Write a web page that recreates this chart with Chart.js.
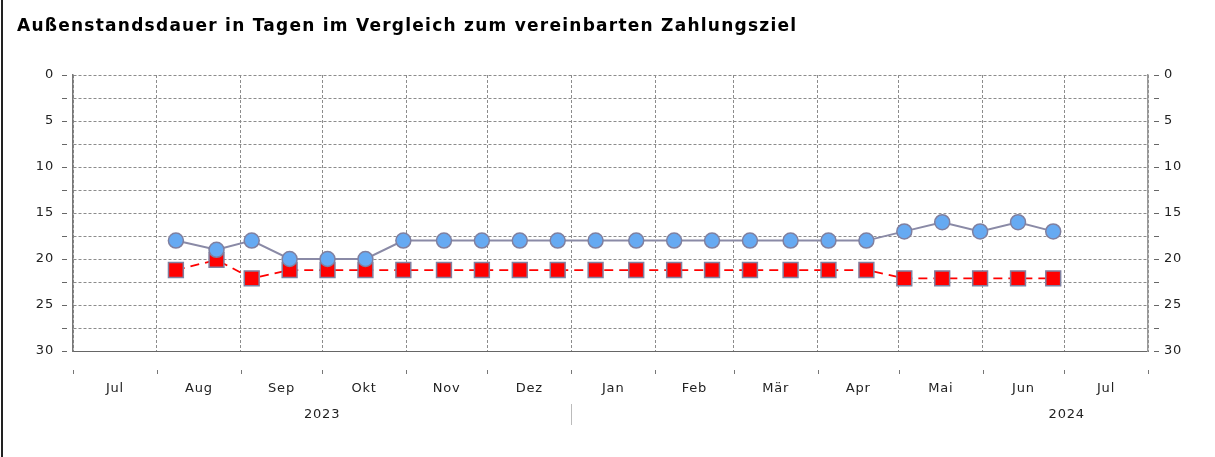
<!DOCTYPE html>
<html>
<head>
<meta charset="utf-8">
<script src="https://cdn.jsdelivr.net/npm/chart.js@4"></script>
<style>
  html, body { margin: 0; padding: 0; background: #fff; }
  .wrap { position: relative; width: 1215px; height: 457px; }
  .frame { position: absolute; left: 1px; top: 0; width: 2px; height: 457px; background: #222; }
</style>
</head>
<body>
<div class="wrap">
  <canvas id="chart"></canvas>
  <div class="frame"></div>
</div>
<script>
const TITLE = "Außenstandsdauer in Tagen im Vergleich zum vereinbarten Zahlungsziel";

const pointDates = [
  "2023-08-08", "2023-08-23", "2023-09-05", "2023-09-19", "2023-10-03", "2023-10-17",
  "2023-10-31", "2023-11-15", "2023-11-29", "2023-12-13", "2023-12-27", "2024-01-10",
  "2024-01-25", "2024-02-08", "2024-02-22", "2024-03-07", "2024-03-22", "2024-04-05",
  "2024-04-19", "2024-05-03", "2024-05-17", "2024-05-31", "2024-06-14", "2024-06-27"
];

const outstandingDays = [
  18, 19, 18, 20, 20, 20, 18, 18, 18, 18, 18, 18,
  18, 18, 18, 18, 18, 18, 18, 17, 16, 17, 16, 17
];

const agreedTerms = [
  21.2, 20.1, 22.1, 21.2, 21.2, 21.2, 21.2, 21.2, 21.2, 21.2, 21.2, 21.2,
  21.2, 21.2, 21.2, 21.2, 21.2, 21.2, 21.2, 22.1, 22.1, 22.1, 22.1, 22.1
];

const monthStarts = [
  "2023-07-01", "2023-08-01", "2023-09-01", "2023-10-01", "2023-11-01", "2023-12-01",
  "2024-01-01", "2024-02-01", "2024-03-01", "2024-04-01", "2024-05-01", "2024-06-01",
  "2024-07-01", "2024-08-01"
];
const monthNames = ["Jul", "Aug", "Sep", "Okt", "Nov", "Dez", "Jan", "Feb", "Mär", "Apr", "Mai", "Jun", "Jul"];

const yearLabels = ["2023", "2024"];
const yearSpans = [["2023-07-01", "2024-01-01"], ["2024-01-01", "2025-01-01"]];

const yTicks = [0, 5, 10, 15, 20, 25, 30];

const ORIGIN = Date.UTC(2023, 6, 1);
function dayNum(s) {
  const [y, m, d] = s.split("-").map(Number);
  return (Date.UTC(y, m - 1, d) - ORIGIN) / 86400000;
}

const boundaryDays = monthStarts.map(dayNum);
const midDays = boundaryDays.slice(0, -1).map((d, i) => (d + boundaryDays[i + 1]) / 2);

const FONT = "'DejaVu Sans', Verdana, sans-serif";
const TEXT = "#222";
const GRID = "#8c8c8c";

function quarterTicks(s) {
  const t = [];
  for (let v = 0; v <= 30; v += 2.5) t.push({ value: v });
  s.ticks = t;
}

const decorPlugin = {
  id: "decor",
  beforeDraw(chart) {
    // the reference text is set a little wider than the font alone
    chart.ctx.letterSpacing = "0.8px";
  },
  afterDraw(chart) {
    const ctx = chart.ctx;
    const x = chart.scales.x;
    const y = chart.scales.y;
    const area = chart.chartArea;
    ctx.save();

    // title
    ctx.fillStyle = "#000";
    ctx.font = "bold 17px " + FONT;
    ctx.letterSpacing = "1.25px";
    ctx.textBaseline = "alphabetic";
    ctx.textAlign = "left";
    ctx.fillText(TITLE, 17, 31);
    ctx.letterSpacing = "0.8px";

    // small tick dashes left and right of the plot
    ctx.strokeStyle = "#666";
    ctx.lineWidth = 1;
    for (let v = 0; v <= 30; v += 2.5) {
      const py = Math.round(y.getPixelForValue(v)) + 0.5;
      ctx.beginPath();
      ctx.moveTo(area.left - 11, py);
      ctx.lineTo(area.left - 6, py);
      ctx.moveTo(area.right + 6, py);
      ctx.lineTo(area.right + 11, py);
      ctx.stroke();
    }

    // month boundary tick marks below the axis
    ctx.strokeStyle = "#777";
    boundaryDays.forEach((d) => {
      const px = Math.round(x.getPixelForValue(d)) + 0.5;
      ctx.beginPath();
      ctx.moveTo(px, area.bottom + 19);
      ctx.lineTo(px, area.bottom + 23);
      ctx.stroke();
    });

    // year labels and separator
    ctx.fillStyle = TEXT;
    ctx.font = "13px " + FONT;
    ctx.textAlign = "center";
    ctx.textBaseline = "middle";
    yearLabels.forEach((label, i) => {
      const a = x.getPixelForValue(dayNum(yearSpans[i][0]));
      const b = x.getPixelForValue(dayNum(yearSpans[i][1]));
      ctx.fillText(label, (a + b) / 2, 415);
    });
    ctx.strokeStyle = "#bbb";
    const sep = Math.round(x.getPixelForValue(dayNum("2024-01-01"))) + 0.5;
    ctx.beginPath();
    ctx.moveTo(sep, 404);
    ctx.lineTo(sep, 425);
    ctx.stroke();

    ctx.restore();
  }
};

new Chart(document.getElementById("chart"), {
  type: "line",
  data: {
    datasets: [
      {
        label: "Außenstandsdauer",
        data: pointDates.map((d, i) => ({ x: dayNum(d), y: outstandingDays[i] })),
        borderColor: "#8a8aa6",
        borderWidth: 2,
        pointStyle: "circle",
        pointRadius: 7.5,
        pointBackgroundColor: "#66aaf2",
        pointBorderColor: "#8080a0",
        pointBorderWidth: 1.5,
        tension: 0
      },
      {
        label: "Zahlungsziel",
        data: pointDates.map((d, i) => ({ x: dayNum(d), y: agreedTerms[i] })),
        borderColor: "#ff0000",
        borderWidth: 1.8,
        borderDash: [9, 6],
        pointStyle: "rect",
        pointRadius: 10.5,
        pointBackgroundColor: "#ff0000",
        pointBorderColor: "#8080a0",
        pointBorderWidth: 1.5,
        tension: 0
      }
    ]
  },
  options: {
    responsive: true,
    maintainAspectRatio: false,
    animation: false,
    layout: { padding: { top: 75, left: 0, right: 0, bottom: 0 } },
    plugins: {
      legend: { display: false },
      tooltip: { enabled: false },
      title: { display: false }
    },
    scales: {
      x: {
        type: "linear",
        min: boundaryDays[0],
        max: boundaryDays[boundaryDays.length - 1],
        afterFit: (s) => { s.height = 106; },
        afterBuildTicks: (s) => {
          s.ticks = boundaryDays.concat(midDays).sort((a, b) => a - b).map((v) => ({ value: v }));
        },
        ticks: {
          autoSkip: false,
          maxRotation: 0,
          padding: 30,
          color: TEXT,
          font: { family: FONT, size: 13 },
          callback: (v) => {
            const i = midDays.indexOf(v);
            return i >= 0 ? monthNames[i] : "";
          }
        },
        grid: {
          drawTicks: false,
          color: (c) => (c.tick && midDays.includes(c.tick.value) ? "rgba(0,0,0,0)" : GRID),
          lineWidth: 1
        },
        border: { display: true, color: "#666", width: 1, dash: [3, 2] }
      },
      y: {
        position: "left",
        reverse: true,
        min: 0,
        max: 30,
        afterFit: (s) => { s.width = 73; },
        afterBuildTicks: quarterTicks,
        ticks: {
          padding: 19,
          color: TEXT,
          font: { family: FONT, size: 13 },
          callback: (v) => (yTicks.includes(v) ? String(v) : "")
        },
        grid: { drawTicks: false, color: GRID, lineWidth: 1 },
        border: { display: true, color: "#777", width: 1.5, dash: [3, 2] }
      },
      y2: {
        position: "right",
        reverse: true,
        min: 0,
        max: 30,
        afterFit: (s) => { s.width = 67; },
        afterBuildTicks: quarterTicks,
        ticks: {
          padding: 16,
          color: TEXT,
          font: { family: FONT, size: 13 },
          callback: (v) => (yTicks.includes(v) ? String(v) : "")
        },
        grid: { drawOnChartArea: false, drawTicks: false },
        border: { display: true, color: "#999", width: 1.5 }
      }
    }
  },
  plugins: [decorPlugin]
});
</script>
</body>
</html>
